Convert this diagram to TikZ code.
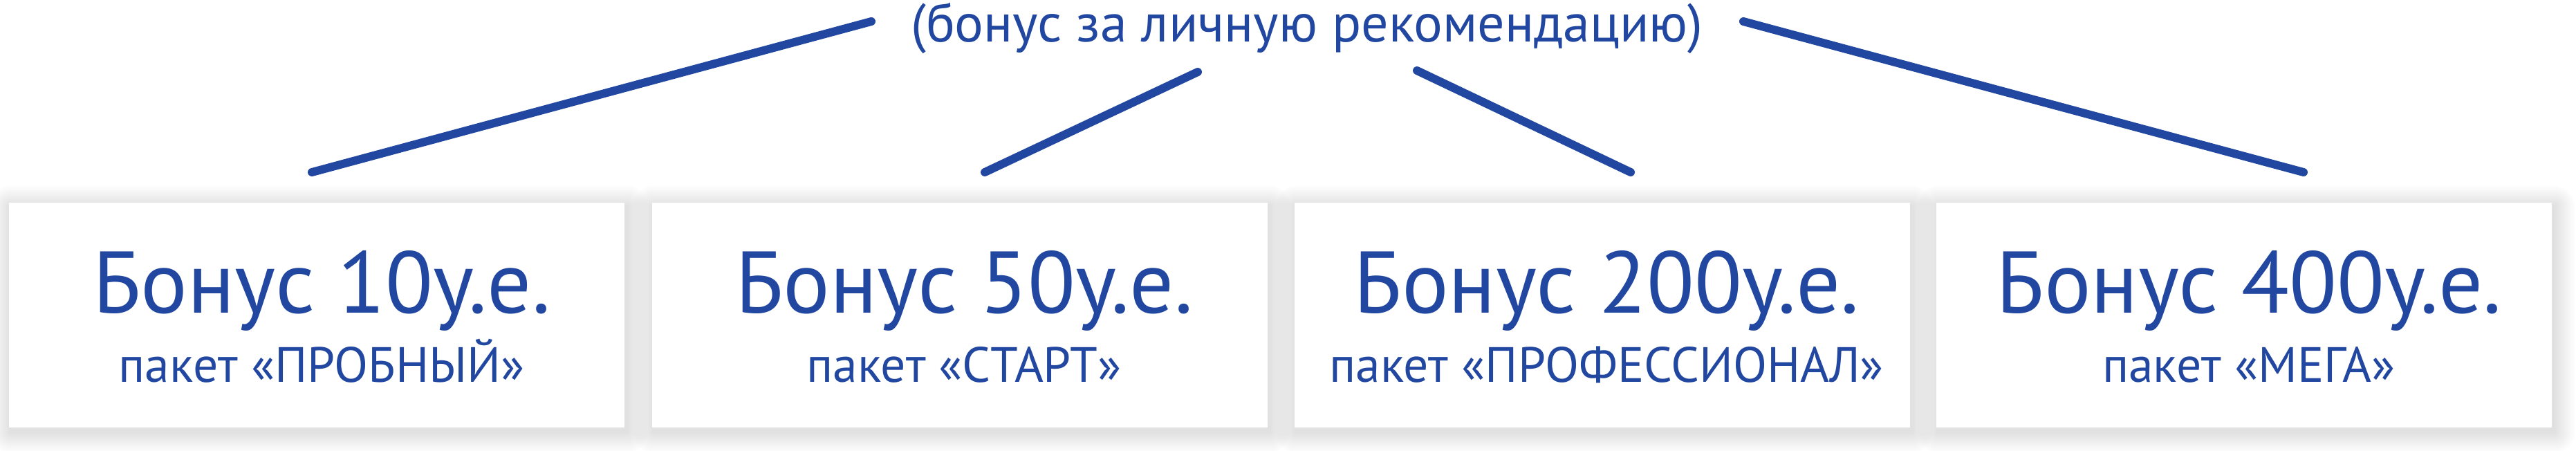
\documentclass[tikz,border=0pt]{standalone}
\usepackage{fontspec}
\setmainfont{PT Sans}
\usetikzlibrary{calc}
\definecolor{bonusBlue}{RGB}{33, 71, 161}
\pgfdeclarelayer{background}
\pgfsetlayers{background,main}

\tikzset{
  pkgbox/.style={fill=white, minimum width=8.9cm, minimum height=3.25cm, inner sep=0pt},
  pkgshade/.style={black, opacity=0.008},
  pkgtitle/.style={text=bonusBlue, anchor=base, font=\fontsize{36}{42}\selectfont},
  pkgname/.style={text=bonusBlue, anchor=base, font=\fontsize{20.4}{24}\selectfont},
  link/.style={bonusBlue, line width=3.4pt, line cap=round}
}

\begin{document}
\begin{tikzpicture}
        \useasboundingbox (0,0) rectangle (37.25,6.51);
        % packages
        \node[pkgbox] (box1) at (4.58,1.955) {};
        \node[pkgbox] (box2) at (13.875,1.955) {};
        \node[pkgbox] (box3) at (23.165,1.955) {};
        \node[pkgbox] (box4) at (32.45,1.955) {};
        \node[pkgtitle] (title1) at (4.65,1.99) {Бонус 10у.е.};
        \node[pkgtitle] (title2) at (13.94,1.99) {Бонус 50у.е.};
        \node[pkgtitle] (title3) at (23.23,1.99) {Бонус 200у.е.};
        \node[pkgtitle] (title4) at (32.52,1.99) {Бонус 400у.е.};
        \node[pkgname] (name1) at (4.65,0.99) {пакет «ПРОБНЫЙ»};
        \node[pkgname] (name2) at (13.94,0.99) {пакет «СТАРТ»};
        \node[pkgname] (name3) at (23.23,0.99) {пакет «ПРОФЕССИОНАЛ»};
        \node[pkgname] (name4) at (32.52,0.99) {пакет «МЕГА»};
        % soft shadows under the boxes
        \begin{pgfonlayer}{background}
          \fill[white] (0,0) rectangle (37.25,6.51);
          \foreach \b in {box1,box2,box3,box4}
            \foreach \d in {0.02,0.04,...,0.3}
              \fill[pkgshade, rounded corners=\d cm]
                ($(\b.south west)+(-\d+0.03,-\d-0.06)$) rectangle ($(\b.north east)+(\d+0.03,\d-0.06)$);
        \end{pgfonlayer}
        % heading
        \node[pkgname, font=\fontsize{22.2}{26}\selectfont] (rec) at (18.90,5.91) {(бонус за личную рекомендацию)};
        % links
        \coordinate (top1) at (12.60,6.20);
        \coordinate (top2) at (17.32,5.47);
        \coordinate (top3) at (20.49,5.49);
        \coordinate (top4) at (25.21,6.20);
        \coordinate (low1) at (4.51,4.02);
        \coordinate (low2) at (14.24,4.02);
        \coordinate (low3) at (23.58,4.02);
        \coordinate (low4) at (33.31,4.02);
        \draw[link] (top1) -- (low1);
        \draw[link] (top2) -- (low2);
        \draw[link] (top3) -- (low3);
        \draw[link] (top4) -- (low4);
      \end{tikzpicture}
\end{document}
